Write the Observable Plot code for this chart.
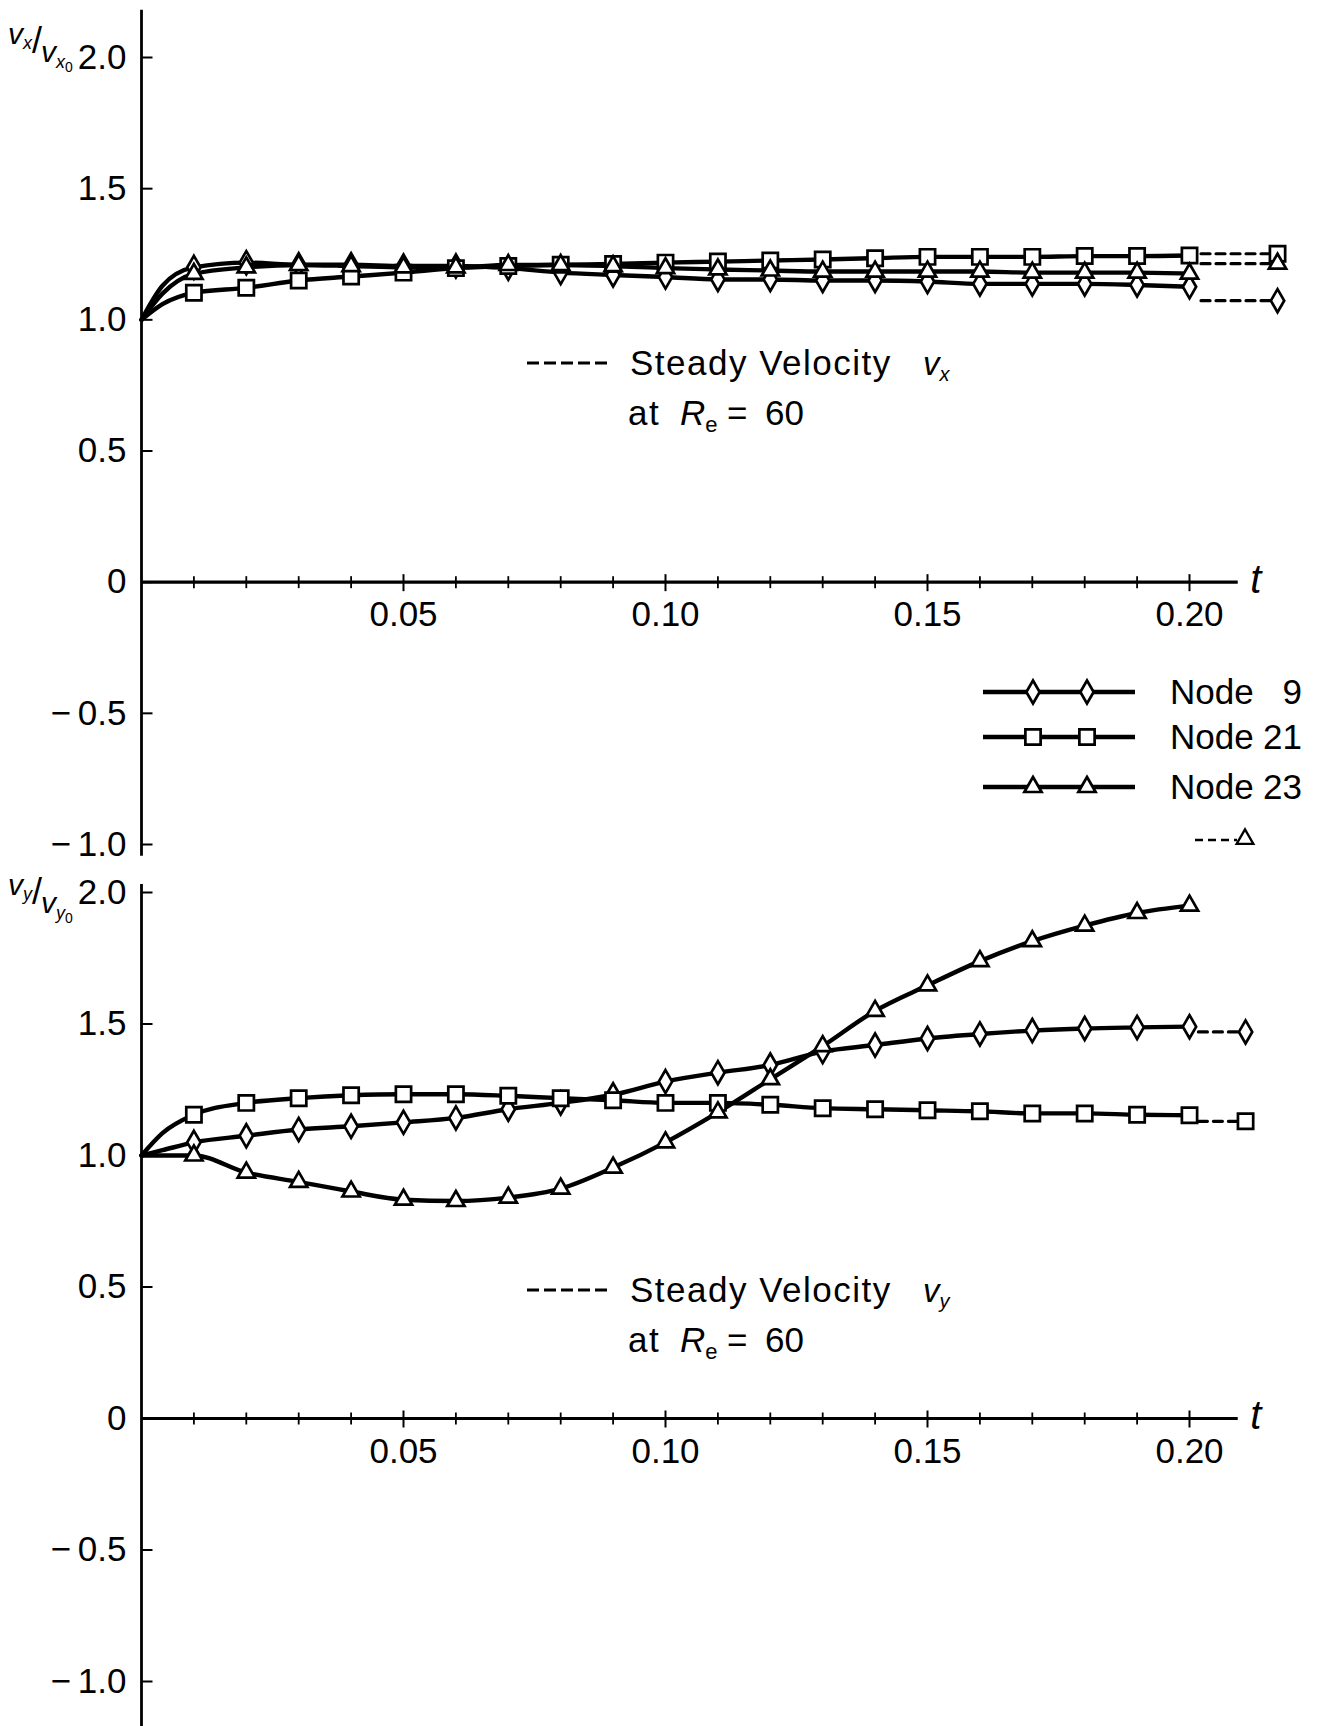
<!DOCTYPE html>
<html><head><meta charset="utf-8">
<script src="https://cdn.jsdelivr.net/npm/d3@7"></script>
<script src="https://cdn.jsdelivr.net/npm/@observablehq/plot@0.6"></script>
<style>
html,body{margin:0;padding:0;background:#fff;overflow:hidden;}
#wrap{position:relative;width:1317px;height:1726px;overflow:hidden;background:#fff;}
#wrap svg{position:absolute;left:0;}
</style></head><body><div id="wrap"></div>
<script>
// ---------------- data ----------------
const nodes = ["Node 9", "Node 21", "Node 23"];
const t = [0.01,0.02,0.03,0.04,0.05,0.06,0.07,0.08,0.09,0.10,0.11,0.12,0.13,0.14,0.15,0.16,0.17,0.18,0.19,0.20];
const tStart = [0, 0.004];

// v_x / v_x0 (upper panel)
const vxNode9  = [1.200,1.218,1.210,1.210,1.205,1.205,1.197,1.180,1.171,1.163,1.154,1.154,1.150,1.150,1.146,1.137,1.137,1.137,1.133,1.126];
const vxNode21 = [1.103,1.122,1.150,1.165,1.180,1.197,1.205,1.210,1.213,1.218,1.222,1.226,1.230,1.235,1.240,1.240,1.240,1.243,1.243,1.245];
const vxNode23 = [1.175,1.200,1.209,1.205,1.200,1.200,1.209,1.209,1.205,1.197,1.192,1.188,1.184,1.184,1.184,1.184,1.180,1.180,1.180,1.176];
const vxStart9 = [1.0, 1.13], vxStart21 = [1.0, 1.06], vxStart23 = [1.0, 1.10];
const vxSteady = [1.073, 1.252, 1.214];

// v_y / v_y0 (lower panel)
const vyNode9  = [1.050,1.075,1.099,1.111,1.126,1.143,1.176,1.200,1.231,1.281,1.315,1.344,1.395,1.420,1.445,1.462,1.475,1.483,1.487,1.490];
const vyNode21 = [1.155,1.200,1.218,1.229,1.233,1.233,1.227,1.218,1.210,1.200,1.200,1.193,1.180,1.176,1.172,1.168,1.160,1.160,1.155,1.153];
const vyNode23 = [1.000,0.935,0.900,0.863,0.832,0.827,0.840,0.874,0.954,1.050,1.164,1.290,1.416,1.550,1.647,1.739,1.815,1.874,1.922,1.950];
const vyStart9 = [1.0, 1.02], vyStart21 = [1.0, 1.085], vyStart23 = [1.0, 1.0];
const vySteady = [1.47, 1.13, null];

// axes
const xMajor = [0.05, 0.10, 0.15, 0.20];
const xMajorLabels = ["0.05", "0.10", "0.15", "0.20"];
const yTicks = [2.0, 1.5, 1.0, 0.5, 0, -0.5, -1.0];
const yTickLabels = ["2.0", "1.5", "1.0", "0.5", "0", "\u2212\u20090.5", "\u2212\u20091.0"];

// ---------------- styles / layout ----------------
const FONT = "Liberation Sans, Arial, sans-serif";
const style = [
  {symbol: "diamond", r: 7.0},
  {symbol: "square", r: 8.6},
  {symbol: "triangle", r: 6.4}
];
const LW = 4.4, MW = 2.7;
const xEnd = 0.2093;
const vTickMinor = {draw(c){ c.moveTo(0,-6); c.lineTo(0,6); }};
const vTickMajor = {draw(c){ c.moveTo(0,-8); c.lineTo(0,9); }};
const hTick = {draw(c){ c.moveTo(0,0); c.lineTo(11,0); }};

function rows(tt, vv){ return tt.map((d,i)=>({t:d, v:vv[i]})); }

function panel(cfg){
  const marks = [];
  marks.push(Plot.ruleX([0], {y1: cfg.axisLow, y2: cfg.axisHigh, stroke:"black", strokeWidth:2.8}));
  marks.push(Plot.ruleY([0], {x1: 0, x2: xEnd, stroke:"black", strokeWidth:3.2}));
  marks.push(Plot.dot(t.filter(d=>!xMajor.includes(d)), {x:d=>d, y:()=>0, symbol:vTickMinor, fill:"none", stroke:"black", strokeWidth:1.8}));
  marks.push(Plot.dot(xMajor, {x:d=>d, y:()=>0, symbol:vTickMajor, fill:"none", stroke:"black", strokeWidth:2}));
  marks.push(Plot.dot(yTicks, {x:()=>0, y:d=>d, symbol:hTick, fill:"none", stroke:"black", strokeWidth:2}));
  marks.push(Plot.text(xMajor, {x:d=>d, y:()=>0, text:(d,i)=>xMajorLabels[i], dy:33, fontSize:35, fontFamily:FONT, fill:"black"}));
  marks.push(Plot.text(yTicks, {x:()=>0, y:d=>d, text:(d,i)=>yTickLabels[i], dx:-15, textAnchor:"end", fontSize:35, fontFamily:FONT, fill:"black"}));
  marks.push(Plot.text(["t"], {x:()=>xEnd, y:()=>0, text:d=>d, dx:12, dy:-2, textAnchor:"start", fontStyle:"italic", fontSize:40, fontFamily:FONT, fill:"black"}));
  cfg.series.forEach((s,k)=>{
    marks.push(Plot.line(rows(tStart.concat(t), s.start.concat(s.vals)), {x:"t", y:"v", curve:"monotone-x", stroke:"black", strokeWidth:LW}));
  });
  cfg.steady.forEach((v,k)=>{
    if (v == null) return;
    marks.push(Plot.line(rows([cfg.dashStart, cfg.steadyT], [v, v]), {x:"t", y:"v", stroke:"black", strokeWidth:3.2, strokeDasharray:"9,6"}));
  });
  cfg.series.forEach((s,k)=>{
    marks.push(Plot.dot(rows(t, s.vals), {x:"t", y:"v", symbol:style[k].symbol, r:style[k].r, fill:"white", stroke:"black", strokeWidth:MW}));
  });
  cfg.steady.forEach((v,k)=>{
    if (v == null) return;
    marks.push(Plot.dot([v], {x:()=>cfg.steadyT, y:d=>d, symbol:style[k].symbol, r:style[k].r, fill:"white", stroke:"black", strokeWidth:MW}));
  });
  return Plot.plot({
    width: 1317, height: cfg.height,
    x: {domain:[0, 0.2], range:[141, 1189], axis:null},
    y: {domain:[-1, 2], range: cfg.yRange, axis:null},
    style: {background:"white", fontFamily: FONT, overflow:"visible", color:"black"},
    marks
  });
}

const wrap = document.getElementById("wrap");

const topSvg = panel({
  height: 868, yRange:[844, 57], axisLow:-1.045, axisHigh:2.18,
  series:[{vals:vxNode9, start:vxStart9},{vals:vxNode21, start:vxStart21},{vals:vxNode23, start:vxStart23}],
  steady: vxSteady, steadyT: 0.2168, dashStart: 0.2022
});
topSvg.style.top = "0px";
wrap.appendChild(topSvg);

const bottomSvg = panel({
  height: 858, yRange:[813, 24], axisLow:-1.2, axisHigh:2.03,
  series:[{vals:vyNode9, start:vyStart9},{vals:vyNode21, start:vyStart21},{vals:vyNode23, start:vyStart23}],
  steady: vySteady, steadyT: 0.2107, dashStart: 0.2017
});
bottomSvg.style.top = "868px";
wrap.appendChild(bottomSvg);

function layer(svg){
  return d3.select(svg).append("g").attr("font-family", FONT).attr("fill","black").attr("text-anchor","start");
}

// ---------------- annotations ----------------
function yTitle(svg, sub, y0){
  const g = layer(svg);
  const tx = g.append("text").attr("x", 8).attr("y", y0).attr("font-size", 30).attr("font-style","italic");
  tx.append("tspan").text("v");
  tx.append("tspan").attr("font-size", 18).attr("dy", 5).text(sub);
  tx.append("tspan").attr("font-size", 36).attr("dy", 4).attr("font-style","normal").text("/");
  tx.append("tspan").attr("font-size", 30).attr("dy", 9).attr("dx", -1).text("v");
  tx.append("tspan").attr("font-size", 18).attr("dy", 6).text(sub);
  tx.append("tspan").attr("font-size", 14).attr("dy", 4).attr("font-style","normal").text("0");
}
yTitle(topSvg, "x", 44);
yTitle(bottomSvg, "y", 27);

function note(svg, sub, yb){
  const g = layer(svg);
  g.append("line").attr("x1", 527).attr("x2", 612).attr("y1", yb-12).attr("y2", yb-12)
    .attr("stroke","black").attr("stroke-width",3).attr("stroke-dasharray","12,5");
  g.append("text").attr("x", 630).attr("y", yb).attr("font-size", 35).attr("letter-spacing", 1.5).text("Steady Velocity");
  const v = g.append("text").attr("x", 923).attr("y", yb).attr("font-size", 33).attr("font-style","italic");
  v.append("tspan").text("v");
  v.append("tspan").attr("font-size", 20).attr("dy", 6).text(sub);
  const l2 = yb + 50;
  g.append("text").attr("x", 628).attr("y", l2).attr("font-size", 35).attr("letter-spacing", 1.5).text("at");
  const r = g.append("text").attr("x", 680).attr("y", l2).attr("font-size", 35).attr("font-style","italic");
  r.append("tspan").text("R");
  r.append("tspan").attr("font-size", 22).attr("dy", 7).attr("font-style","normal").text("e");
  g.append("text").attr("x", 727).attr("y", l2).attr("font-size", 35).text("=");
  g.append("text").attr("x", 765).attr("y", l2).attr("font-size", 35).text("60");
}
note(topSvg, "x", 375);
note(bottomSvg, "y", 434);

// ---------------- legend ----------------
(function legend(){
  const g = layer(topSvg);
  const rowsY = [692, 737, 787];
  const d3sym = {diamond: d3.symbolDiamond, square: d3.symbolSquare, triangle: d3.symbolTriangle};
  nodes.forEach((n,k)=>{
    const y = rowsY[k];
    g.append("line").attr("x1", 983).attr("x2", 1135).attr("y1", y).attr("y2", y).attr("stroke","black").attr("stroke-width",LW);
    [1033, 1087].forEach(x=>{
      g.append("path").attr("transform", `translate(${x},${y})`)
        .attr("d", d3.symbol(d3sym[style[k].symbol], Math.PI*style[k].r*style[k].r)())
        .attr("fill","white").attr("stroke","black").attr("stroke-width",MW);
    });
    const parts = n.split(" ");
    g.append("text").attr("x", 1170).attr("y", y+12).attr("font-size", 35).text(parts[0]);
    g.append("text").attr("x", 1302).attr("y", y+12).attr("font-size", 35).attr("text-anchor","end").text(parts[1]);
  });
  g.append("line").attr("x1", 1195).attr("x2", 1237).attr("y1", 840).attr("y2", 840)
    .attr("stroke","black").attr("stroke-width",2.6).attr("stroke-dasharray","8,5");
  g.append("path").attr("transform", "translate(1245,839)")
    .attr("d", d3.symbol(d3.symbolTriangle, Math.PI*6.2*6.2)())
    .attr("fill","white").attr("stroke","black").attr("stroke-width",2.3);
})();
</script></body></html>
